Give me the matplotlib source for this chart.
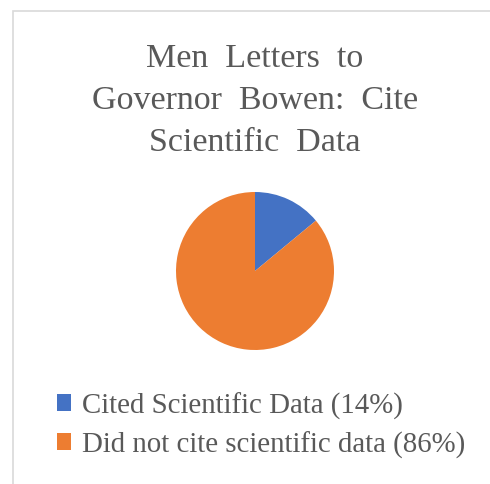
import matplotlib
matplotlib.use("Agg")
import matplotlib.pyplot as plt
from matplotlib.patches import Rectangle, Patch

title = "Men  Letters  to\nGovernor  Bowen:  Cite\nScientific  Data"
categories = ["Cited Scientific Data (14%)", "Did not cite scientific data (86%)"]
values = [14, 86]
colors = ["#4472C4", "#ED7D31"]

W, H = 490, 485
fig = plt.figure(figsize=(W / 100, H / 100), dpi=100)
plt.rcParams['font.family'] = ['Liberation Serif', 'DejaVu Serif']

# chart border (cropped at right/bottom)
fig.patches.append(Rectangle((12.5 / W, -0.1), 1.2, 1 - 11.5 / H + 0.1,
                             transform=fig.transFigure, fill=False,
                             edgecolor="#D9D9D9", linewidth=1.2))

for i, line in enumerate(title.split("\n")):
    fig.text(255 / W, 1 - (67 + i * 42) / H, line, ha="center", va="baseline",
             fontsize=24.5, color="#595959")

cx, cy, r = 255, 272, 79
ax = fig.add_axes([(cx - r) / W, 1 - (cy + r) / H, 2 * r / W, 2 * r / H])
ax.pie(values, colors=colors, startangle=90, counterclock=False, radius=1,
       wedgeprops=dict(linewidth=0))
ax.set_xlim(-1, 1)
ax.set_ylim(-1, 1)
ax.set_aspect("auto")
ax.axis("off")

handles = [Patch(facecolor=c, edgecolor="none") for c in colors]
fig.legend(handles, categories, loc="upper left",
           bbox_to_anchor=(57 / W, 1 - 393 / H), frameon=False,
           fontsize=20.8, labelcolor="#595959", handlelength=0.5,
           handleheight=0.5, handletextpad=0.35, labelspacing=0.4,
           borderpad=0, borderaxespad=0)

fig.savefig("out.png", dpi=100)
